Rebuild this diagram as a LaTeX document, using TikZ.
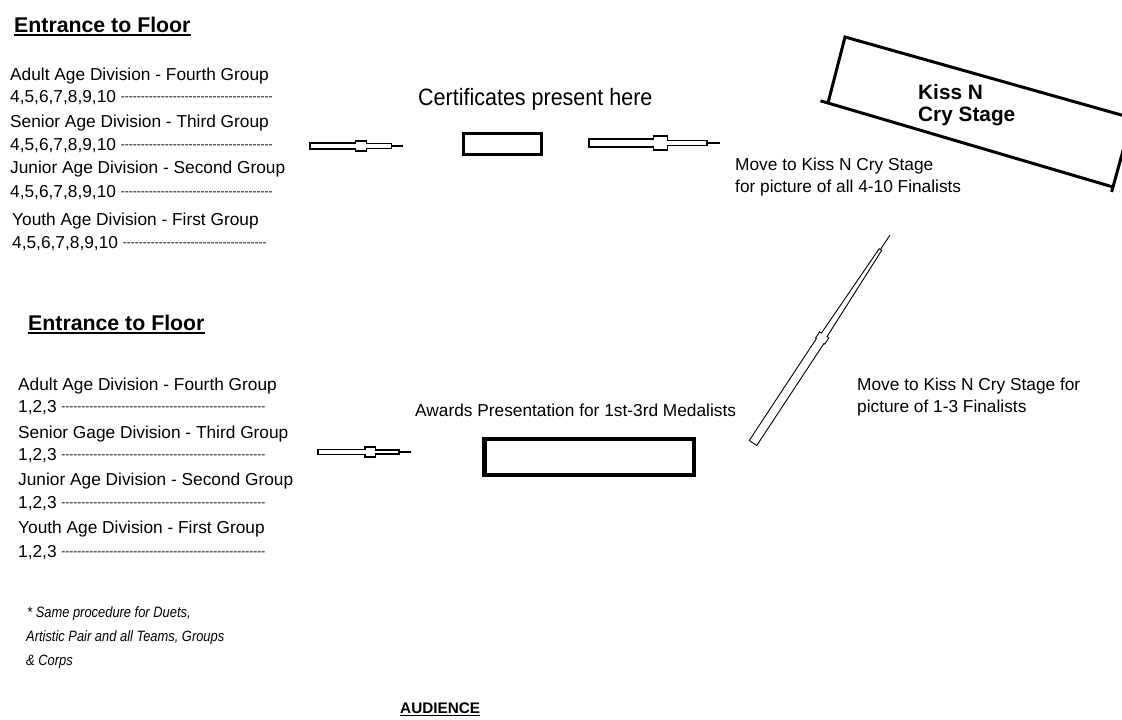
\documentclass[tikz,border=0pt]{standalone}
\usepackage{fontspec}
\setmainfont{Liberation Sans}
\usetikzlibrary{calc}
\newcommand\hyph[1]{{\fontsize{12}{12}\selectfont\raisebox{1.6pt}{\foreach\hh in {1,...,#1}{-\kern0pt}}}}
% #1 tail, #2 head, #3 shaft end, #4 box end, #5 neck end, #6 shaft half, #7 box half, #8 neck half start, #9 neck half end
\newcommand\hollowarrow[9]{%
  \draw[arrowline]
    ($(#1)!#6!90:(#2)$) --
    ($(#1)!#3!(#2)!#6!90:(#2)$) --
    ($(#1)!#3!(#2)!#7!90:(#2)$) --
    ($(#1)!#4!(#2)!#7!90:(#2)$) --
    ($(#1)!#4!(#2)!#8!90:(#2)$) --
    ($(#1)!#5!(#2)!#9!90:(#2)$) --
    ($(#1)!#5!(#2)!#9!270:(#2)$) --
    ($(#1)!#4!(#2)!#8!270:(#2)$) --
    ($(#1)!#4!(#2)!#7!270:(#2)$) --
    ($(#1)!#3!(#2)!#7!270:(#2)$) --
    ($(#1)!#3!(#2)!#6!270:(#2)$) --
    ($(#1)!#6!270:(#2)$) -- cycle;
  \draw[arrowline] ($(#1)!#5!(#2)$) -- (#2);}
\begin{document}
\begin{tikzpicture}[x=1pt,y=-1pt,
  txt/.style={inner sep=0pt, anchor=base west, font=\fontsize{17.3}{20}\selectfont},
  bigtxt/.style={inner sep=0pt, anchor=base west, font=\fontsize{21.5}{24}\selectfont},
  headtxt/.style={inner sep=0pt, anchor=base west, font=\bfseries\fontsize{21.3}{24}\selectfont},
  stagetxt/.style={inner sep=0pt, anchor=base west, font=\bfseries\fontsize{20.8}{24}\selectfont},
  audtxt/.style={inner sep=0pt, anchor=base west, font=\bfseries\fontsize{15.3}{18}\selectfont},
  notetxt/.style={inner sep=0pt, anchor=base west, font=\itshape\fontsize{15}{18}\selectfont},
  underl/.style={line width=2pt},
  arrowline/.style={draw=black, line width=1.2pt, line join=miter},
  certbox/.style={draw, line width=3pt, minimum width=78pt, minimum height=21pt, inner sep=0pt},
  awardbox/.style={draw, line width=4.5pt, minimum width=209.5pt, minimum height=36pt, inner sep=0pt},
  stageline/.style={line width=3pt}]
\useasboundingbox (0,0) rectangle (1122,720);
\fill[white] (0,0) rectangle (1122,720);
\clip (0,0) rectangle (1122,720);

% headings
\node[headtxt] (h1) at (14,32) {Entrance to Floor};
\draw[underl] ([yshift=-2.8pt]h1.base west) -- ([yshift=-2.8pt]h1.base east);
\node[headtxt] (h2) at (28,330) {Entrance to Floor};
\draw[underl] ([yshift=-2.8pt]h2.base west) -- ([yshift=-2.8pt]h2.base east);

% top left block
\node[txt] (t1) at (10,80) {Adult Age Division - Fourth Group};
\node[txt] (t2) at (10,102) {4,5,6,7,8,9,10 \hyph{38}};
\node[txt] (t3) at (10,127) {Senior Age Division - Third Group};
\node[txt] (t4) at (10,150) {4,5,6,7,8,9,10 \hyph{38}};
\node[txt] (t5) at (10,173) {Junior Age Division - Second Group};
\node[txt] (t6) at (10,197) {4,5,6,7,8,9,10 \hyph{38}};
\node[txt] (t7) at (12,225) {Youth Age Division - First Group};
\node[txt] (t8) at (12,248) {4,5,6,7,8,9,10 \hyph{36}};

% bottom left block
\node[txt] (b1) at (18,390) {Adult Age Division - Fourth Group};
\node[txt] (b2) at (18,412) {1,2,3 \hyph{51}};
\node[txt] (b3) at (18,438) {Senior Gage Division - Third Group};
\node[txt] (b4) at (18,460) {1,2,3 \hyph{51}};
\node[txt] (b5) at (18,485) {Junior Age Division - Second Group};
\node[txt] (b6) at (18,508) {1,2,3 \hyph{51}};
\node[txt] (b7) at (18,533) {Youth Age Division - First Group};
\node[txt] (b8) at (18,557) {1,2,3 \hyph{51}};

% note
\node[notetxt] (n1) at (27,617) {\scalebox{0.86}[1]{* Same procedure for Duets,}};
\node[notetxt] (n2) at (26,641) {\scalebox{0.86}[1]{Artistic Pair and all Teams, Groups}};
\node[notetxt] (n3) at (26,665) {\scalebox{0.86}[1]{\& Corps}};

% audience
\node[audtxt] (aud) at (400,713) {AUDIENCE};
\draw[line width=1.6pt] ([yshift=-2.6pt]aud.base west) -- ([yshift=-2.6pt]aud.base east);

% certificates
\node[bigtxt] (certlbl) at (418,105) {\scalebox{1}[1.1]{Certificates present here}};
\node[certbox] (cert) at (502.5,144) {};

% awards
\node[txt] (awlbl) at (415,416) {Awards Presentation for 1st-3rd Medalists};
\node[awardbox] (award) at (589.25,457) {};

% stage
\coordinate (sTL) at (845,37);
\coordinate (sBL) at (828,103);
\coordinate (sBL0) at (820.5,100.8);
\coordinate (sBR) at (1113,187);
\coordinate (sBR0) at (1111.6,192);
\coordinate (sTR) at (1132,118);
\draw[stageline] (sBL0) -- (sBR);
\draw[stageline] (sBL) -- (sTL) -- (sTR);
\draw[stageline] (sBR0) -- (sTR);
\node[stagetxt] (st1) at (918,99) {Kiss N};
\node[stagetxt] (st2) at (918,121) {Cry Stage};

\node[txt] (m1) at (735,170) {Move to Kiss N Cry Stage};
\node[txt] (m2) at (735,192) {for picture of all 4-10 Finalists};
\node[txt] (m3) at (857,390) {Move to Kiss N Cry Stage for};
\node[txt] (m4) at (857,412) {picture of 1-3 Finalists};

% arrows
\coordinate (a1t) at (310,146);
\coordinate (a1h) at (403,146);
\hollowarrow{a1t}{a1h}{0.485}{0.61}{0.88}{3pt}{5pt}{2.2pt}{2.2pt}
\coordinate (a2t) at (589,143);
\coordinate (a2h) at (720,143);
\hollowarrow{a2t}{a2h}{0.49}{0.6}{0.9}{4pt}{7pt}{2.3pt}{2.3pt}
\coordinate (a3t) at (318,452);
\coordinate (a3h) at (411,452);
\hollowarrow{a3t}{a3h}{0.505}{0.62}{0.87}{2.8pt}{5pt}{2pt}{2pt}
\coordinate (a4t) at (753,443);
\coordinate (a4h) at (890,235);
\begin{scope}[arrowline/.append style={line width=0.9pt}]
\hollowarrow{a4t}{a4h}{0.49}{0.52}{0.93}{4.5pt}{5.5pt}{3.3pt}{1.5pt}
\end{scope}
\end{tikzpicture}
\end{document}
